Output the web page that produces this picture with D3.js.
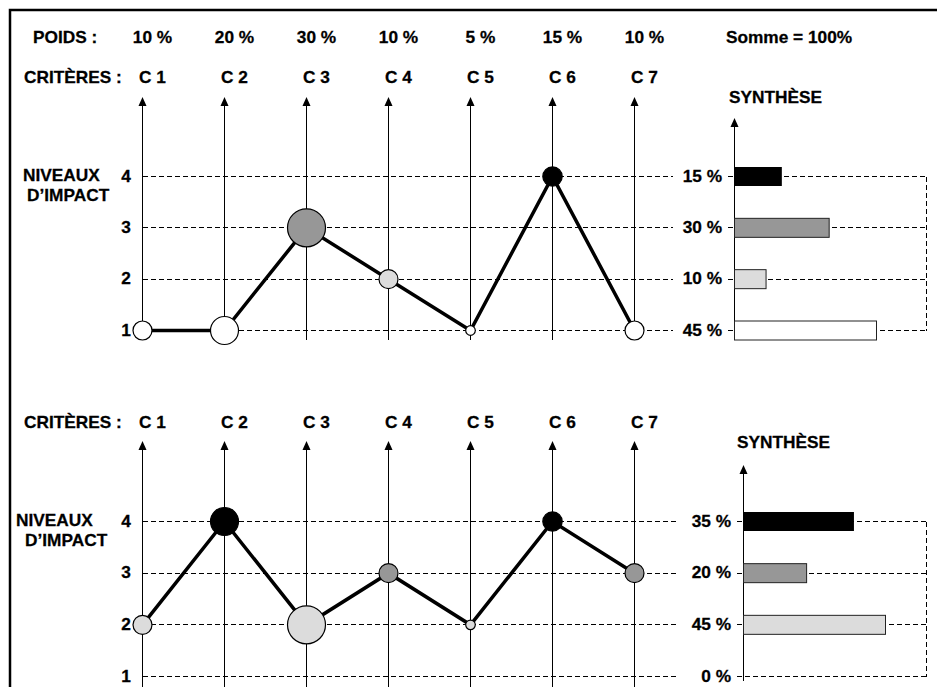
<!DOCTYPE html>
<html>
<head>
<meta charset="utf-8">
<script src="https://cdn.jsdelivr.net/npm/d3@7"></script>
<style>
  body { margin: 0; background: #fff; }
  text { font-family: "Liberation Sans", Arial, sans-serif; font-weight: bold; font-size: 16px; fill: #000; stroke: #000; stroke-width: 0.25px; }
</style>
</head>
<body>
<div id="chart"></div>
<script>
// données
const criteres = ["C 1", "C 2", "C 3", "C 4", "C 5", "C 6", "C 7"];
const poids = [10, 20, 30, 10, 5, 15, 10];
const niveaux = [1, 2, 3, 4];
const impactHaut = [1, 1, 3, 2, 1, 4, 1];
const impactBas = [2, 4, 2, 3, 2, 4, 3];

let width = 937, height = 687;

let svg = d3.select("#chart").append("svg")
    .attr("width", width)
    .attr("height", height);

let x = d3.scalePoint().domain(criteres).range([142.5, 634.5]);
let r = d3.scaleLinear().domain([5, 10, 15, 20, 30]).range([4.8, 9.5, 9.7, 14, 19]);
let fill = d3.scaleOrdinal().domain(niveaux).range(["#ffffff", "#dcdcdc", "#979797", "#000000"]);
let barW = d3.scaleLinear().domain([0, 45]).range([0, 142]);

function label(g, px, py, txt, anchor) {
    return g.append("text")
        .attr("transform", `translate(${px},${py}) scale(1.08,1)`)
        .attr("text-anchor", anchor || "start")
        .attr("dominant-baseline", "central")
        .text(txt);
}

function arrow(g, px, yTip, yEnd) {
    g.append("line")
        .attr("x1", px).attr("x2", px)
        .attr("y1", yTip + 4).attr("y2", yEnd)
        .attr("stroke", "#000").attr("stroke-width", 1)
        .attr("shape-rendering", "crispEdges");
    g.append("path")
        .attr("d", `M${px},${yTip} L${px - 4},${yTip + 9} L${px + 4},${yTip + 9} Z`)
        .attr("fill", "#000");
}

// cadre
svg.append("path")
    .attr("d", "M10,700 L10,10 L945,10")
    .attr("fill", "none")
    .attr("stroke", "#000")
    .attr("stroke-width", 2.5);

// en-tête des poids
label(svg, 33, 38, "POIDS :");
poids.forEach((p, i) => label(svg, x(criteres[i]) + 10, 38, p + " %", "middle"));
label(svg, 789, 38, "Somme = " + d3.sum(poids) + "%", "middle");

function drawPanel(values, o) {
    let g = svg.append("g");
    let y = d3.scaleLinear().domain([1, 4]).range([o.y1, o.y4]);

    // synthèse : somme des poids par niveau
    let synth = d3.rollup(values.map((v, i) => ({v: v, p: poids[i]})), a => d3.sum(a, d => d.p), d => d.v);

    // grille en tirets
    let grid = g.append("g")
        .attr("stroke", "#000")
        .attr("stroke-width", 1)
        .attr("stroke-dasharray", "5,3")
        .attr("shape-rendering", "crispEdges")
        .attr("fill", "none");
    niveaux.forEach(n => {
        grid.append("line").attr("x1", x.range()[0]).attr("x2", o.gridEnd)
            .attr("y1", y(n)).attr("y2", y(n));
        grid.append("line").attr("x1", o.sx - 7).attr("x2", 926.5)
            .attr("y1", y(n)).attr("y2", y(n));
    });
    grid.append("line").attr("x1", 926.5).attr("x2", 926.5).attr("y1", y(4)).attr("y2", y(1));
    grid.append("line").attr("x1", x.range()[0]).attr("x2", x.range()[0]).attr("y1", y(4)).attr("y2", y(1));

    // axes des critères
    criteres.forEach(c => arrow(g, x(c), o.tip, o.axisEnd));
    arrow(g, o.sx, o.stip, o.saxisEnd);

    // profil
    let line = d3.line().x((d, i) => x(criteres[i])).y(d => y(d));
    g.append("path")
        .datum(values)
        .attr("d", line)
        .attr("fill", "none")
        .attr("stroke", "#000")
        .attr("stroke-width", 3.5)
        .attr("stroke-linejoin", "miter");

    g.selectAll("circle")
        .data(values)
        .join("circle")
        .attr("cx", (d, i) => x(criteres[i]))
        .attr("cy", d => y(d))
        .attr("r", (d, i) => r(poids[i]))
        .attr("fill", d => fill(d))
        .attr("stroke", "#000")
        .attr("stroke-width", 1.2);

    // barres de synthèse
    let bars = niveaux.filter(n => synth.get(n));
    g.selectAll("rect")
        .data(bars)
        .join("rect")
        .attr("x", o.sx)
        .attr("y", n => y(n) - 9.5)
        .attr("width", n => barW(synth.get(n)))
        .attr("height", 19)
        .attr("fill", n => fill(n))
        .attr("stroke", n => n == 4 ? "none" : "#222")
        .attr("stroke-width", 1);

    // textes
    label(g, 24, o.critY, "CRITÈRES :");
    criteres.forEach(c => label(g, x(c) + 10, o.critY, c, "middle"));
    label(g, o.nivX[0], y(4) - 1, "NIVEAUX");
    label(g, o.nivX[1], y(4) + 19, "D’IMPACT");
    niveaux.forEach(n => label(g, 126, y(n), n, "middle"));
    niveaux.forEach(n => label(g, o.pctX, y(n), (synth.get(n) || 0) + " %", "end"));
    label(g, o.synX, o.synY, "SYNTHÈSE");
}

drawPanel(impactHaut, {
    y1: 330.5, y4: 176.5, tip: 97, axisEnd: 340, critY: 78,
    gridEnd: 673, sx: 734.5, stip: 118, saxisEnd: 340,
    pctX: 722, synX: 729, synY: 97.5, nivX: [23, 27]
});

drawPanel(impactBas, {
    y1: 676.5, y4: 521.5, tip: 441, axisEnd: 695, critY: 423,
    gridEnd: 678, sx: 743.5, stip: 465, saxisEnd: 681,
    pctX: 731, synX: 737, synY: 443, nivX: [16, 25]
});
</script>
</body>
</html>
